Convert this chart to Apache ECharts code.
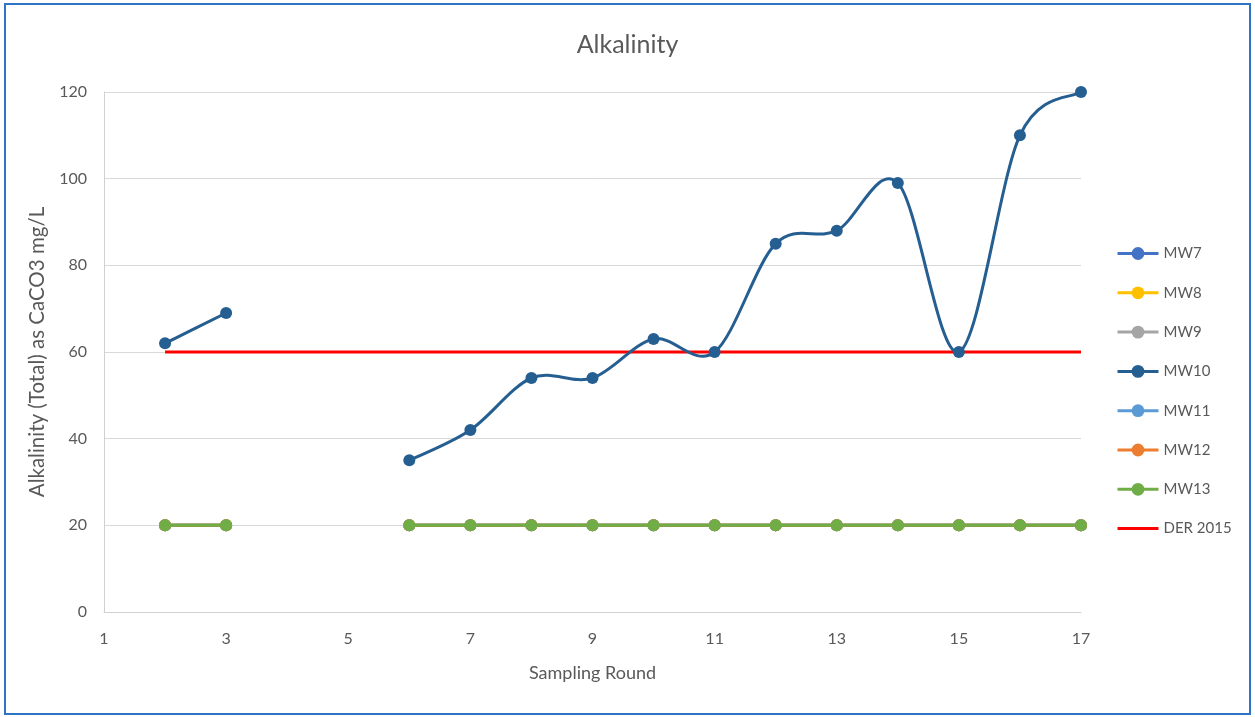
<!DOCTYPE html>
<html>
<head>
<meta charset="utf-8">
<script src="https://cdn.jsdelivr.net/npm/echarts@6/dist/echarts.min.js"></script>
<style>html,body{margin:0;padding:0;background:#fff;}#c{width:1255px;height:717px;}</style>
</head>
<body>
<div id="c"></div>
<script>
const rounds = ['1','2','3','4','5','6','7','8','9','10','11','12','13','14','15','16','17'];
const mw7  = [null,20,20,null,null,20,20,20,20,20,20,20,20,20,20,20,20];
const mw8  = [null,20,20,null,null,20,20,20,20,20,20,20,20,20,20,20,20];
const mw9  = [null,20,20,null,null,20,20,20,20,20,20,20,20,20,20,20,20];
const mw10 = [null,62,69,null,null,35,42,54,54,63,60,85,88,99,60,110,120];
const mw11 = [null,20,20,null,null,20,20,20,20,20,20,20,20,20,20,20,20];
const mw12 = [null,20,20,null,null,20,20,20,20,20,20,20,20,20,20,20,20];
const mw13 = [null,20,20,null,null,20,20,20,20,20,20,20,20,20,20,20,20];
const der2015 = [null,60,60,60,60,60,60,60,60,60,60,60,60,60,60,60,60];
const yTicks = [0,20,40,60,80,100,120];

const FONT = 'Lato, "Open Sans", sans-serif';
const TXT = '#595959';
const chart = echarts.init(document.getElementById('c'), null, {renderer:'canvas'});

// Excel-like (Catmull-Rom) smoothing drawn through the axis scales via api.coord
function smoothPath(api, vals){
  const segs = []; let cur = [];
  vals.forEach((v,i)=>{
    if (v == null) { if (cur.length) segs.push(cur); cur = []; }
    else cur.push(api.coord([i, v]));
  });
  if (cur.length) segs.push(cur);
  let d = '';
  segs.forEach(pts=>{
    d += 'M' + pts[0][0] + ' ' + pts[0][1];
    for (let i = 0; i < pts.length - 1; i++) {
      const p0 = pts[i-1] || pts[i], p1 = pts[i], p2 = pts[i+1], p3 = pts[i+2] || pts[i+1];
      const c1 = [p1[0] + (p2[0]-p0[0])/6, p1[1] + (p2[1]-p0[1])/6];
      const c2 = [p2[0] - (p3[0]-p1[0])/6, p2[1] - (p3[1]-p1[1])/6];
      d += ' C' + c1[0] + ' ' + c1[1] + ' ' + c2[0] + ' ' + c2[1] + ' ' + p2[0] + ' ' + p2[1];
    }
  });
  return d;
}

function mk(name, data, color, z){
  return {name, type:'line', data, connectNulls:false,
    symbol:'circle', symbolSize:12, z,
    lineStyle:{color, width:3}, itemStyle:{color}};
}
const mw10Series = mk('MW10', mw10, '#255E91', 5);
mw10Series.lineStyle = {color:'#255E91', width:3, opacity:0};

chart.setOption({
  backgroundColor:'#fff',
  animation:false,
  title:{text:'Alkalinity', left:'center', top:27,
    textStyle:{fontFamily:FONT, fontSize:25, fontWeight:'normal', color:TXT}},
  grid:{left:104, right:174, top:92, bottom:105, containLabel:false},
  legend:{orient:'vertical', left:1111, top:241, itemWidth:41, itemHeight:16, itemGap:24.3,
    lineStyle:{width:3},
    textStyle:{fontFamily:FONT, fontSize:15, color:TXT},
    data:['MW7','MW8','MW9',{name:'MW10', lineStyle:{opacity:1, width:3, color:'#255E91'}},'MW11','MW12','MW13',
      {name:'DER 2015', itemStyle:{opacity:0}, lineStyle:{opacity:1, width:3, color:'#FF0000'}}]},
  xAxis:{type:'category', data:rounds, boundaryGap:false,
    name:'Sampling Round', nameLocation:'middle', nameGap:52,
    nameTextStyle:{fontFamily:FONT, fontSize:18, color:TXT},
    axisLine:{lineStyle:{color:'#d0d0d0', width:1}},
    axisTick:{show:false},
    axisLabel:{interval:1, margin:19, fontFamily:FONT, fontSize:16, color:TXT},
    splitLine:{show:false}},
  yAxis:{type:'value', min:yTicks[0], max:yTicks[yTicks.length-1], interval:20,
    name:'Alkalinity (Total) as CaCO3 mg/L', nameLocation:'middle', nameGap:46,
    nameTextStyle:{fontFamily:FONT, fontSize:20.5, color:TXT},
    axisLine:{show:true, lineStyle:{color:'#d0d0d0', width:1}},
    axisTick:{show:false},
    axisLabel:{margin:17, fontFamily:FONT, fontSize:16, color:TXT},
    splitLine:{lineStyle:{color:'#d9d9d9', width:1}}},
  series:[
    mk('MW7', mw7, '#4472C4', 2),
    mk('MW8', mw8, '#FFC000', 2),
    mk('MW9', mw9, '#A5A5A5', 2),
    mw10Series,
    mk('MW11', mw11, '#5B9BD5', 2),
    mk('MW12', mw12, '#ED7D31', 2),
    mk('MW13', mw13, '#70AD47', 3),
    {name:'DER 2015', type:'line', data:der2015, symbol:'none', z:3,
      lineStyle:{color:'#FF0000', width:3}, itemStyle:{color:'#FF0000'}},
    {name:'MW10 curve', type:'custom', data:[[1, 62]], encode:{x:0, y:1}, z:4, silent:true, clip:false,
      renderItem:(params, api)=>({type:'path', shape:{pathData:smoothPath(api, mw10)},
        style:{fill:'none', stroke:'#255E91', lineWidth:3}})}
  ],
  graphic:[{type:'rect', shape:{x:5, y:4, width:1245, height:710},
    style:{fill:null, stroke:'#2E75C6', lineWidth:2}, silent:true}]
});
</script>
</body>
</html>
